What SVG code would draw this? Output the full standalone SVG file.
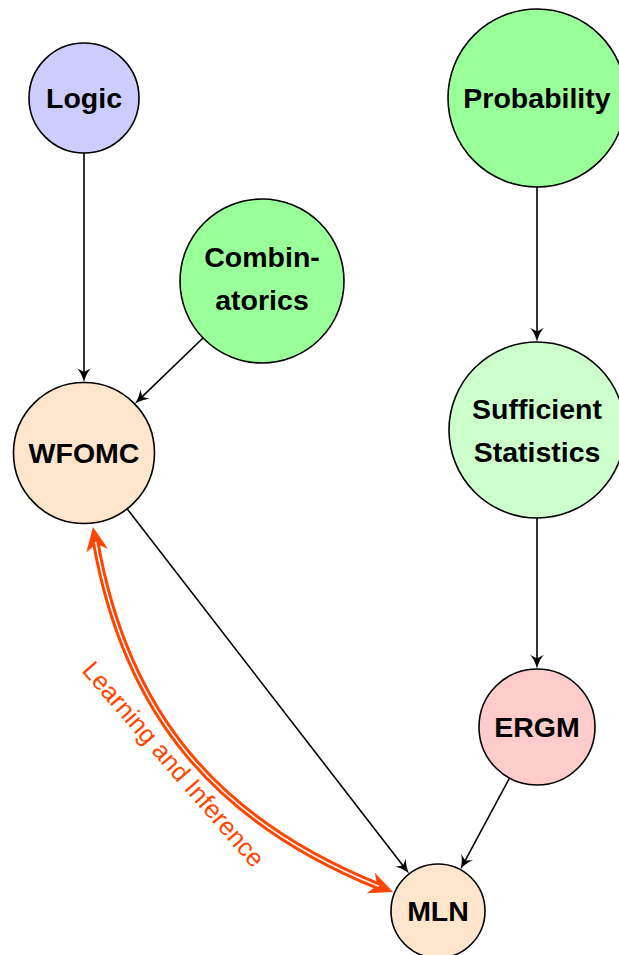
<svg xmlns="http://www.w3.org/2000/svg" width="619" height="955" viewBox="0 0 619 955">
<style>
.node circle { stroke: #000; stroke-width: 1.6; }
.node text { font-family: "Liberation Sans", Arial, Helvetica, sans-serif; font-weight: bold; font-size: 28.5px; text-anchor: middle; fill: #000; }
.edge { fill: none; stroke: #000; stroke-width: 1.6; marker-end: url(#arrow); }
.label { font-family: "Liberation Sans", Arial, Helvetica, sans-serif; font-size: 25.5px; fill: #ff4500; }
</style>
<defs>
<marker id="arrow" markerUnits="userSpaceOnUse" markerWidth="20" markerHeight="20" refX="4" refY="0" orient="auto" overflow="visible">
<path d="M13,0 C8,1 1.3,4 -1.3,7 L2.6,0 L-1.3,-7 C1.3,-4 8,-1 13,0 Z" fill="#000"/>
</marker>
<marker id="bigarrow" markerUnits="userSpaceOnUse" markerWidth="30" markerHeight="30" refX="9" refY="0" orient="auto-start-reverse" overflow="visible">
<path d="M24,0 L0,-11 L7,0 L0,11 Z" fill="#ff4500"/>
</marker>
</defs>
<rect width="619" height="955" fill="#fff"/>
<g id="nodes">
<g id="logic" class="node"><circle cx="84" cy="98" r="55" fill="#ccccff"/><text x="84" y="108">Logic</text></g>
<g id="probability" class="node"><circle cx="537" cy="98" r="89" fill="#99ff99"/><text x="537" y="108">Probability</text></g>
<g id="combinatorics" class="node"><circle cx="262" cy="281" r="82" fill="#99ff99"/><text x="262" y="267">Combin-</text><text x="262" y="310">atorics</text></g>
<g id="wfomc" class="node"><circle cx="84" cy="453" r="70.5" fill="#ffe5cc"/><text x="84" y="463">WFOMC</text></g>
<g id="sufficient" class="node"><circle cx="537" cy="430" r="88" fill="#ccffcc"/><text x="537" y="419">Sufficient</text><text x="537" y="462">Statistics</text></g>
<g id="ergm" class="node"><circle cx="537" cy="727" r="58" fill="#ffcccc"/><text x="537" y="737">ERGM</text></g>
<g id="mln" class="node"><circle cx="438" cy="911" r="47" fill="#ffe5cc"/><text x="438" y="921">MLN</text></g>
</g>
<g id="connectors">
<path class="edge" d="M84,153 L84,373.5"/>
<path class="edge" d="M203,338 L141.2,397.7"/>
<path class="edge" d="M537,187 L537,333"/>
<path class="edge" d="M537,518 L537,660"/>
<path class="edge" d="M509.5,778.1 L464.6,861.7"/>
<path class="edge" d="M127.1,508.8 L403.8,866.7"/>
<path d="M95.6,541.8 C126,714 217,821 379.1,886.4" fill="none" stroke="#ff4500" stroke-width="7.5" marker-start="url(#bigarrow)" marker-end="url(#bigarrow)"/>
<path d="M95.6,541.8 C126,714 217,821 379.1,886.4" fill="none" stroke="#fff" stroke-width="1.5"/>
<text class="label" transform="translate(81,671) rotate(49)">Learning and Inference</text>
</g>
</svg>
